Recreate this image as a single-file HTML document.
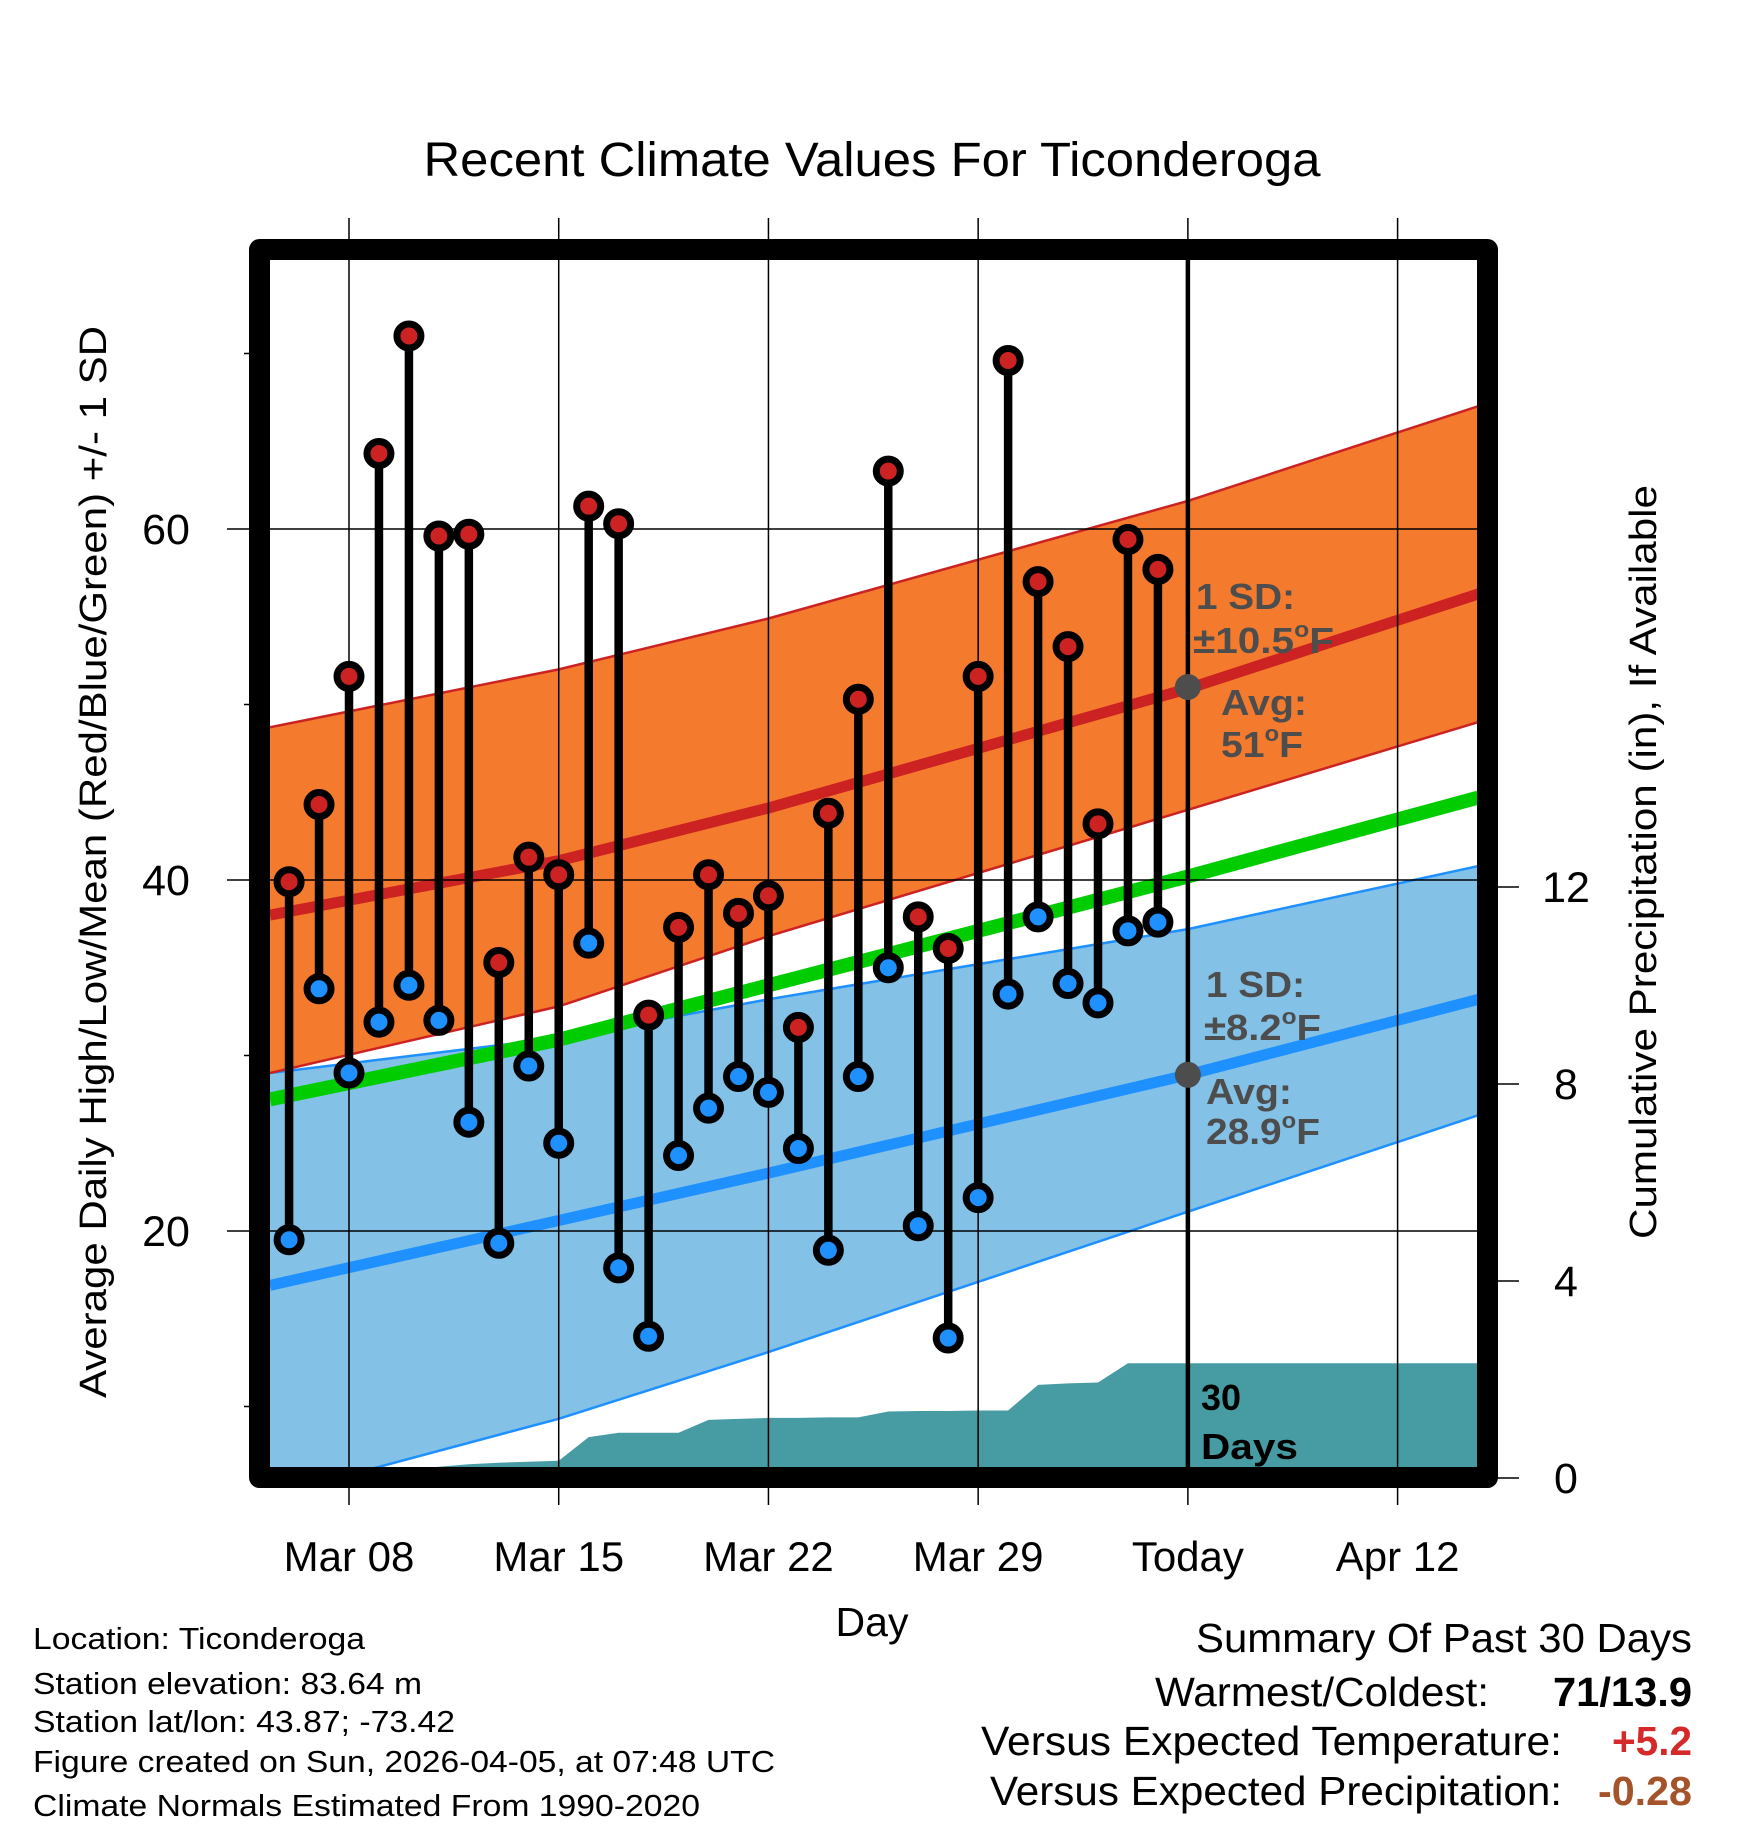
<!DOCTYPE html>
<html><head><meta charset="utf-8"><style>
html,body{margin:0;padding:0;background:#fff}
svg{display:block;font-family:"Liberation Sans",Arial,sans-serif}
</style></head><body>
<svg id="chart" width="1748" height="1828" viewBox="0 0 1748 1828" xmlns="http://www.w3.org/2000/svg">
<defs><clipPath id="plotclip"><rect x="270" y="260" width="1208" height="1208"/></clipPath></defs>
<text x="872" y="176" font-size="48" text-anchor="middle" textLength="897" lengthAdjust="spacingAndGlyphs">Recent Climate Values For Ticonderoga</text>
<g id="bands" clip-path="url(#plotclip)"></g>
<g id="grid"></g>
<g id="marks" clip-path="url(#plotclip)"></g>
<rect x="259.5" y="249.5" width="1228" height="1228" fill="none" stroke="#000" stroke-width="21" stroke-linejoin="round"/>
<g id="labels"></g>
<text transform="translate(106,862) rotate(-90)" font-size="38" text-anchor="middle" textLength="1072" lengthAdjust="spacingAndGlyphs">Average Daily High/Low/Mean (Red/Blue/Green) +/- 1 SD</text>
<text transform="translate(1656,862) rotate(-90)" font-size="38" text-anchor="middle" textLength="754" lengthAdjust="spacingAndGlyphs">Cumulative Precipitation (in), If Available</text>
<text x="872" y="1636" font-size="41" text-anchor="middle">Day</text>
<g font-weight="bold" font-size="36" fill="#4d4d4d">
<text x="1196" y="609" textLength="99" lengthAdjust="spacingAndGlyphs">1 SD:</text>
<text x="1193" y="653" textLength="141" lengthAdjust="spacingAndGlyphs">±10.5<tspan font-size="22" dy="-16">o</tspan><tspan dy="16">F</tspan></text>
<text x="1221" y="715" textLength="86" lengthAdjust="spacingAndGlyphs">Avg:</text>
<text x="1221" y="757" textLength="82" lengthAdjust="spacingAndGlyphs">51<tspan font-size="22" dy="-16">o</tspan><tspan dy="16">F</tspan></text>
<text x="1206" y="997" textLength="99" lengthAdjust="spacingAndGlyphs">1 SD:</text>
<text x="1204" y="1040" textLength="117" lengthAdjust="spacingAndGlyphs">±8.2<tspan font-size="22" dy="-16">o</tspan><tspan dy="16">F</tspan></text>
<text x="1206" y="1104" textLength="86" lengthAdjust="spacingAndGlyphs">Avg:</text>
<text x="1206" y="1144" textLength="114" lengthAdjust="spacingAndGlyphs">28.9<tspan font-size="22" dy="-16">o</tspan><tspan dy="16">F</tspan></text>
<text x="1201" y="1410" fill="#000">30</text>
<text x="1201" y="1459" fill="#000" textLength="97" lengthAdjust="spacingAndGlyphs">Days</text>
</g>
<g font-size="31">
<text x="33" y="1649" textLength="332" lengthAdjust="spacingAndGlyphs">Location: Ticonderoga</text>
<text x="33" y="1694" textLength="389" lengthAdjust="spacingAndGlyphs">Station elevation: 83.64 m</text>
<text x="33" y="1732" textLength="422" lengthAdjust="spacingAndGlyphs">Station lat/lon: 43.87; -73.42</text>
<text x="33" y="1772" textLength="742" lengthAdjust="spacingAndGlyphs">Figure created on Sun, 2026-04-05, at 07:48 UTC</text>
<text x="33" y="1816" textLength="667" lengthAdjust="spacingAndGlyphs">Climate Normals Estimated From 1990-2020</text>
</g>
<g font-size="41">
<text x="1692" y="1652" text-anchor="end" textLength="496" lengthAdjust="spacingAndGlyphs">Summary Of Past 30 Days</text>
<text x="1489" y="1706" text-anchor="end" textLength="334" lengthAdjust="spacingAndGlyphs">Warmest/Coldest:</text>
<text x="1692" y="1706" text-anchor="end" font-weight="bold" textLength="139" lengthAdjust="spacingAndGlyphs">71/13.9</text>
<text x="1562" y="1755" text-anchor="end" textLength="581" lengthAdjust="spacingAndGlyphs">Versus Expected Temperature:</text>
<text x="1692" y="1755" text-anchor="end" font-weight="bold" fill="#d62a2a" textLength="80" lengthAdjust="spacingAndGlyphs">+5.2</text>
<text x="1562" y="1805" text-anchor="end" textLength="572" lengthAdjust="spacingAndGlyphs">Versus Expected Precipitation:</text>
<text x="1692" y="1805" text-anchor="end" font-weight="bold" fill="#a5532a" textLength="94" lengthAdjust="spacingAndGlyphs">-0.28</text>
</g>
</svg>
<script>
// day index: 0 = Mar 08
const days = [-2,-1,0,1,2,3,4,5,6,7,8,9,10,11,12,13,14,15,16,17,18,19,20,21,22,23,24,25,26,27];
const highs = [39.9,44.3,51.6,64.3,71.0,59.6,59.7,35.3,41.3,40.3,61.3,60.3,32.3,37.3,40.3,38.1,39.1,31.6,43.8,50.3,63.3,37.9,36.1,51.6,69.6,57.0,53.3,43.2,59.4,57.7];
const lows = [19.5,33.8,29.0,31.9,34.0,32.0,26.2,19.3,29.4,25.0,36.4,17.9,14.0,24.3,27.0,28.8,27.9,24.7,18.9,28.8,35.0,20.3,13.9,21.9,33.5,37.9,34.1,33.0,37.1,37.6];
const precip = [0,0,0.05,0.1,0.15,0.23,0.28,0.31,0.33,0.35,0.83,0.92,0.92,0.92,1.18,1.2,1.22,1.22,1.23,1.23,1.35,1.36,1.36,1.37,1.37,1.89,1.92,1.94,2.33,2.33];
const normDays = [-2.64,7,14,28,37.7];
const hiMean = [38.0,41.1,44.1,50.9,56.3];
const hiUpper = [48.7,52.0,54.9,61.6,67.0];
const hiLower = [29.0,32.8,36.8,44.0,49.0];
const avgMean = [27.5,30.9,34.0,40.2,44.7];
const loUpper = [29.0,31.0,33.2,37.2,40.8];
const loMean = [16.9,20.6,23.3,28.9,33.2];
const loLower = [4.9,9.3,13.1,21.1,26.6];
const xTickDays = [0,7,14,21,28,35];
const xTickLabels = ["Mar 08","Mar 15","Mar 22","Mar 29","Today","Apr 12"];
const yTicks = [20,40,60];
const yMinor = [10,30,50,70];
const y2Ticks = [0,4,8,12];
const todayDay = 28;
const todayHigh = 51.0, todayLow = 28.9;

const NS = "http://www.w3.org/2000/svg";
const xOf = d => 349 + d * 29.96;
const yT = v => 1231 - (v - 20) * 17.55;
const yP = p => 1478 - p * 49.25;
function mk(tag, attrs, parent){ const e=document.createElementNS(NS,tag); for(const k in attrs) e.setAttribute(k,attrs[k]); parent.appendChild(e); return e; }
const bands=document.getElementById('bands'), grid=document.getElementById('grid'), marks=document.getElementById('marks'), labels=document.getElementById('labels');
const pts = arr => normDays.map((d,i)=>xOf(d).toFixed(1)+","+yT(arr[i]).toFixed(1));
function band(up, lo, fill, name){
  const p = pts(up).concat(pts(lo).reverse()).join(" ");
  const e = mk('polygon',{points:p,fill:fill},bands);
  
  
}
band(loUpper, loLower, '#84c1e6', 'low-sd-band');
band(hiUpper, hiLower, '#f47a2e', 'high-sd-band');
{
  let p = [xOf(days[0])+","+yP(0)];
  days.forEach((d,i)=>p.push(xOf(d)+","+yP(precip[i]).toFixed(1)));
  p.push("1480,"+yP(precip[precip.length-1]).toFixed(1)); p.push("1480,"+yP(0));
  p.unshift("265,"+yP(0));
  const e = mk('polygon',{points:p.join(" "),fill:'#479ba3'},bands);
  
  
}
function line(arr, color, w, name, parent){
  const e = mk('polyline',{points:pts(arr).join(" "),fill:'none',stroke:color,'stroke-width':w},parent);
  
  
}
line(loLower,'#1e90ff',2.5,'low-sd-lower-edge',bands);
line(loUpper,'#1e90ff',2.5,'low-sd-upper-edge',bands);
line(hiLower,'#cc2222',2.5,'high-sd-lower-edge',bands);
line(hiUpper,'#cc2222',2.5,'high-sd-upper-edge',bands);
line(avgMean,'#00cc00',14,'normal-mean-line',bands);
line(loMean,'#1e90ff',11,'normal-low-line',bands);
line(hiMean,'#cc2222',11,'normal-high-line',bands);
xTickDays.forEach((d,i)=>{
  const x=xOf(d);
  const g = mk('line',{x1:x,x2:x,y1:218,y2:1505,stroke:'#000','stroke-width':1.5},grid);
  
  
  const t = mk('text',{x:x,y:1571,'font-size':42,'text-anchor':'middle'},labels);
  t.textContent = xTickLabels[i];
  
  
});
yTicks.forEach(v=>{
  const y=yT(v);
  const g = mk('line',{x1:227,x2:1478,y1:y,y2:y,stroke:'#000','stroke-width':1.5},grid);
  
  
  const t = mk('text',{x:166,y:y+15,'font-size':43,'text-anchor':'middle'},labels);
  t.textContent = v;
  
  
});
yMinor.forEach(v=>{
  const y=yT(v);
  const g = mk('line',{x1:244,x2:260,y1:y,y2:y,stroke:'#000','stroke-width':1.5},grid);
  
  
});
y2Ticks.forEach(v=>{
  const y=yP(v);
  const g = mk('line',{x1:1490,x2:1519,y1:y,y2:y,stroke:'#000','stroke-width':1.5},grid);
  
  
  const t = mk('text',{x:1566,y:y+15,'font-size':43,'text-anchor':'middle'},labels);
  t.textContent = v;
  
  
});
{
  const x=xOf(todayDay);
  const e = mk('line',{x1:x,x2:x,y1:255,y2:1470,stroke:'#000','stroke-width':4.5},marks);
  
  
}
days.forEach((d,i)=>{
  const x=xOf(d);
  const s = mk('line',{x1:x,x2:x,y1:yT(highs[i]),y2:yT(lows[i]),stroke:'#000','stroke-width':8.5},marks);
  
  
});
days.forEach((d,i)=>{
  const x=xOf(d);
  const h = mk('circle',{cx:x,cy:yT(highs[i]),r:12,fill:'#cc2222',stroke:'#000','stroke-width':7},marks);
  
  
  const l = mk('circle',{cx:x,cy:yT(lows[i]),r:12,fill:'#1e90ff',stroke:'#000','stroke-width':7},marks);
  
  
});
{
  const a = mk('circle',{cx:xOf(todayDay),cy:yT(todayHigh),r:13,fill:'#4d4d4d'},marks);
  
  
  const b = mk('circle',{cx:xOf(todayDay),cy:yT(todayLow),r:13,fill:'#4d4d4d'},marks);
  
  
}
</script>
</body></html>
